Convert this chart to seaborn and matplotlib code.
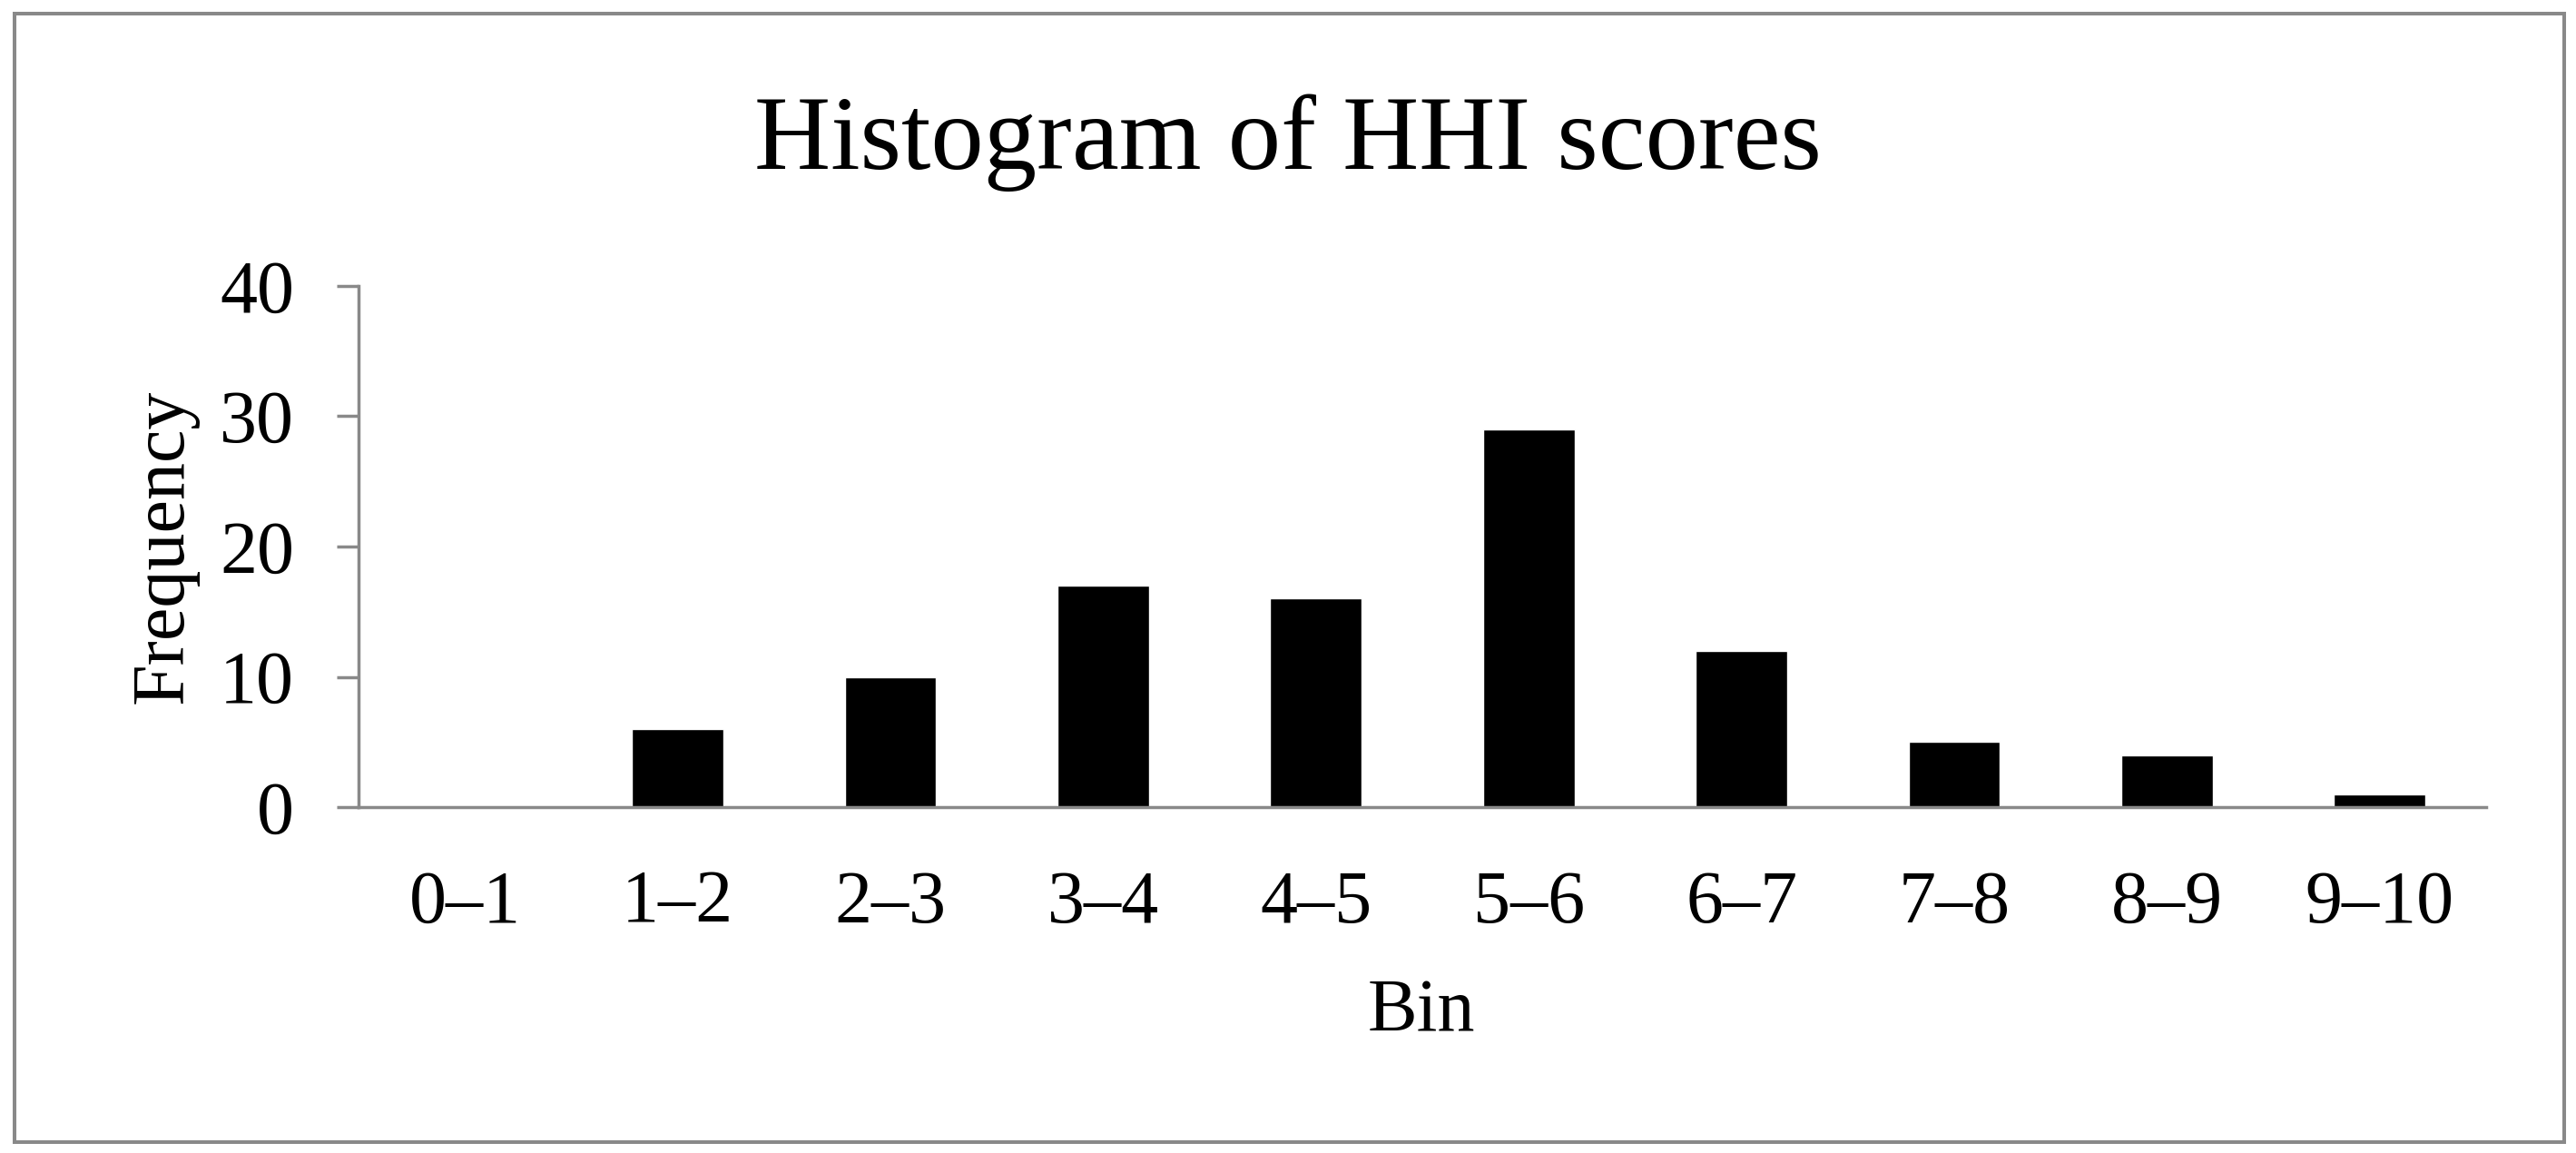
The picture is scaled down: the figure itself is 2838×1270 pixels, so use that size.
import numpy as np
import matplotlib
matplotlib.use('Agg')
import matplotlib.pyplot as plt
import matplotlib.patches as patches
import seaborn as sns
import pandas as pd

# histogram data
bins = ['0–1', '1–2', '2–3', '3–4', '4–5', '5–6', '6–7', '7–8', '8–9', '9–10']
frequency = [0, 6, 10, 17, 16, 29, 12, 5, 4, 1]
y_ticks = [0, 10, 20, 30, 40]

df = pd.DataFrame({'bin': bins, 'frequency': frequency})

sns.set_style('white')
plt.rcParams['font.family'] = ['Liberation Serif', 'DejaVu Serif']
plt.rcParams['text.color'] = 'black'

grey = '#898989'
W, H = 2838, 1270
fig = plt.figure(figsize=(W / 100, H / 100), dpi=100)

# axes box in pixel terms: x 395..2739, y 315 (top) .. 889 (bottom)
ax = fig.add_axes([395 / W, 1 - 889 / H, (2739 - 395) / W, (889 - 315) / H])

sns.barplot(data=df, x='bin', y='frequency', color='black', saturation=1,
            width=0.43, ax=ax, order=bins)

ax.set_xlim(-0.5, len(bins) - 0.5)
ax.set_ylim(0, 40)
ax.set_yticks(y_ticks)
ax.set_xticks(range(len(bins)))
ax.set_xticklabels(bins)
ax.set_xticks(np.arange(-0.5, len(bins)), minor=True)
ax.set_xlabel('')
ax.set_ylabel('')

for side in ['top', 'right']:
    ax.spines[side].set_visible(False)
for side in ['left', 'bottom']:
    ax.spines[side].set_color(grey)
    ax.spines[side].set_linewidth(2.5)

ax.tick_params(axis='x', which='major', length=0, pad=50, labelsize=59, labelcolor='black')
ax.tick_params(axis='x', which='minor', length=19.5, width=1.9, color=grey, direction='out')
ax.tick_params(axis='y', which='major', length=17, width=2.5, color=grey, direction='out',
               pad=34, labelsize=59, labelcolor='black', left=True)

fig.text(0.5, 1 - 186 / H, 'Histogram of HHI scores', ha='center', va='baseline',
         fontsize=84, color='black')
fig.text(1566 / W, 1 - 1136 / H, 'Bin', ha='center', va='baseline', fontsize=59, color='black')
fig.text(181 / W, 1 - 602 / H, 'Frequency', ha='center', va='center', rotation=90,
         fontsize=59, color='black')

# grey frame around the whole chart
frame = patches.Rectangle((15.5 / W, 1 - 1258 / H), (2825 - 15.5) / W, (1258 - 15) / H,
                          transform=fig.transFigure, fill=False, edgecolor=grey, linewidth=2.9)
fig.patches.append(frame)

fig.savefig('out.png', dpi=100, facecolor='white')
